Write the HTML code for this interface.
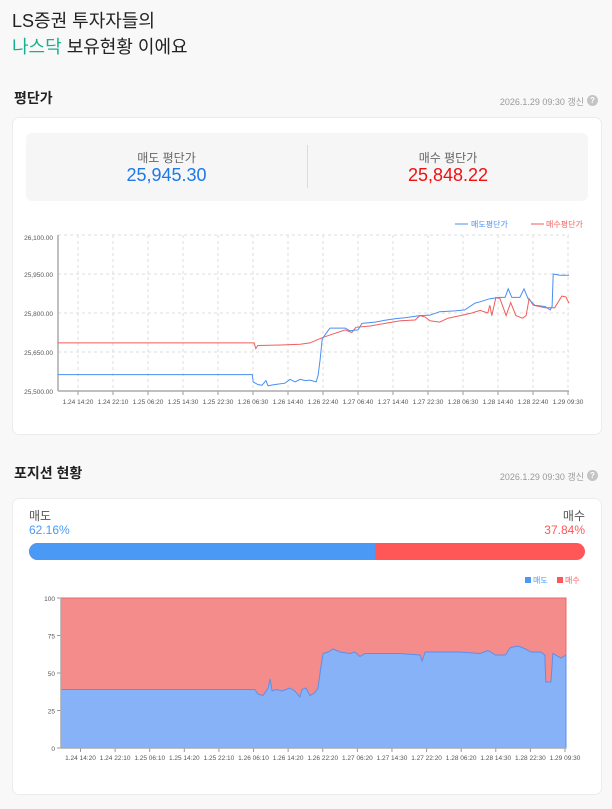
<!DOCTYPE html>
<html><head><meta charset="utf-8">
<style>
*{margin:0;padding:0;box-sizing:border-box}
body{width:612px;height:809px;background:#f8f8f8;font-family:"Liberation Sans","Noto Sans CJK KR",sans-serif;position:relative;overflow:hidden;color:#222}
.abs{position:absolute}
.card{position:absolute;background:#fff;border:1px solid #ececec;border-radius:7px}
.ts{position:absolute;font-size:9px;color:#9a9a9a;right:27px}
.q{position:absolute;width:11px;height:11px;border-radius:50%;background:#c4c4c4;color:#fff;font-size:8px;text-align:center;line-height:11px;font-weight:bold;left:587px}
svg text{font-family:"Liberation Sans",sans-serif}
</style></head><body>
<div class="abs" style="left:12px;top:7px;font-size:18px;">LS증권 투자자들의</div>
<div class="abs" style="left:12px;top:33px;font-size:18px;"><span style="color:#16b08f">나스닥</span> 보유현황 이에요</div>

<div class="abs" style="left:14px;top:88px;font-size:14px;font-weight:bold">평단가</div>
<div class="ts" style="top:95px;right:28px">2026.1.29 09:30 갱신</div>
<div class="q" style="top:95px">?</div>

<div class="card" style="left:12px;top:117px;width:590px;height:318px"></div>
<div class="abs" style="left:26px;top:133px;width:562px;height:68px;background:#f6f6f6;border-radius:6px">
  <div class="abs" style="left:281px;top:12px;width:1px;height:43px;background:#dcdcdc"></div>
  <div class="abs" style="left:0;width:281px;top:16px;text-align:center;font-size:12px;color:#666">매도 평단가</div>
  <div class="abs" style="left:0;width:281px;top:32px;text-align:center;font-size:18px;color:#1e78e6">25,945.30</div>
  <div class="abs" style="left:282px;width:280px;top:16px;text-align:center;font-size:12px;color:#666">매수 평단가</div>
  <div class="abs" style="left:282px;width:280px;top:32px;text-align:center;font-size:18px;color:#f01010">25,848.22</div>
</div>
<svg id="c1" class="abs" style="left:0;top:0" width="612" height="440"></svg>

<div class="abs" style="left:14px;top:463px;font-size:14px;font-weight:bold">포지션 현황</div>
<div class="ts" style="top:470px;right:28px">2026.1.29 09:30 갱신</div>
<div class="q" style="top:470px">?</div>
<div class="card" style="left:12px;top:498px;width:590px;height:297px"></div>
<div class="abs" style="left:29px;top:507px;font-size:12px;color:#555">매도</div>
<div class="abs" style="left:29px;top:523px;font-size:12px;color:#4a9af5">62.16%</div>
<div class="abs" style="right:27px;top:507px;font-size:12px;color:#555">매수</div>
<div class="abs" style="right:27px;top:523px;font-size:12px;color:#ff5757">37.84%</div>
<div class="abs" style="left:29px;top:543px;width:556px;height:17px;border-radius:9px;overflow:hidden;background:#ff5757">
  <div style="width:62.16%;height:100%;background:#4a9af5"></div>
</div>
<svg id="c2" class="abs" style="left:0;top:0" width="612" height="800"></svg>

<script>
// ---- chart 1 data (time as % of range, price) ----
const c1Ticks = ["1.24 14:20","1.24 22:10","1.25 06:20","1.25 14:30","1.25 22:30","1.26 06:30","1.26 14:40","1.26 22:40","1.27 06:40","1.27 14:40","1.27 22:30","1.28 06:30","1.28 14:40","1.28 22:40","1.29 09:30"];
const c1YTicks = [25500,25650,25800,25950,26100];
const c1YLabels = ["25,500.00","25,650.00","25,800.00","25,950.00","26,100.00"];
const sellT = [0,38,38.2,39.1,39.9,40.7,41.1,42.5,44.4,45.4,46.4,47.4,48.4,49.3,50.5,50.9,51.3,51.7,52.4,53.2,56.2,57.1,58.7,59.5,62,64,65.9,67.9,70.8,72.8,74.7,77.7,79.6,81.6,82.6,84.5,86.5,87.5,88.1,88.8,90.4,91.2,92,93.3,95.3,96.3,96.7,96.9,98.2,100];
const sellV = [25563,25563,25535,25525,25522,25540,25520,25525,25530,25545,25535,25545,25540,25542,25535,25560,25620,25700,25720,25742,25742,25732,25735,25760,25765,25772,25778,25782,25790,25792,25805,25808,25812,25838,25843,25855,25860,25860,25893,25860,25860,25893,25855,25830,25825,25812,25825,25950,25945,25945];
const buyT = [0,38.4,38.7,39.1,43.6,47.4,49.3,51.7,53.6,56.2,57.5,58.3,61.1,64,67,69.9,70.8,71.8,72.8,74.7,76.3,78.7,81,82.6,84.1,84.5,84.9,85.7,86.5,87.7,88.6,89.6,90.9,91.6,92.2,93,95.3,97.2,98.6,99.4,100];
const buyV = [25685,25685,25663,25675,25677,25680,25685,25705,25718,25735,25725,25745,25750,25760,25770,25773,25790,25785,25770,25765,25780,25790,25800,25810,25800,25830,25790,25860,25855,25790,25840,25790,25780,25790,25855,25830,25820,25820,25865,25862,25838];
// ---- chart 2 data ----
const c2Ticks = ["1.24 14:20","1.24 22:10","1.25 06:10","1.25 14:20","1.25 22:10","1.26 06:10","1.26 14:20","1.26 22:20","1.27 06:20","1.27 14:30","1.27 22:20","1.28 06:20","1.28 14:30","1.28 22:30","1.29 09:30"];
const c2YTicks = [0,25,50,75,100];
const posT = [0,38.4,39,40,41,41.4,41.8,42.6,43.8,45.3,46.3,47.3,47.7,48.5,49.3,50.3,50.9,51.5,51.9,52.9,53.9,55.2,57.2,58.2,59.2,60.2,63.2,67.1,71.1,71.5,72.1,75.1,79,83,84.6,86,88,89,90.6,92,93,95,95.8,96,97,97.4,99,100];
const posV = [39,39,36,35,40,46,38,39,38,40,38,34,39,40,35,37,40,55,63,64,66,64,63,64,61,63,63,63,62,58,64,64,64,63,65,62,62,67,68,66,64,64,62,44,44,63,60,62];

const NS='http://www.w3.org/2000/svg';
function mk(svg,tag,attrs){const e=document.createElementNS(NS,tag);for(const k in attrs)e.setAttribute(k,attrs[k]);svg.appendChild(e);return e;}

// chart 1
(function(){
const svg=document.getElementById('c1');
const X0=58,X1=569,Y0=391,Y1=235;
const xs=t=>X0+(X1-X0)*t/100;
const ys=v=>Y0-(v-25500)/600*(Y0-Y1);
const tx=i=>78+i*(568-78)/(c1Ticks.length-1);
c1YTicks.forEach((v,i)=>{
  const g=mk(svg,'line',{x1:X0,x2:X1,y1:ys(v),y2:ys(v),stroke:'#ddd','stroke-dasharray':'3,3'});
  
  const t=mk(svg,'text',{x:X0-5,y:ys(v)+(i==4?5:3),'text-anchor':'end','font-size':'6.5',fill:'#555'});t.textContent=c1YLabels[i];
  
});
c1Ticks.forEach((s,i)=>{
  const g=mk(svg,'line',{x1:tx(i),x2:tx(i),y1:Y1,y2:Y0,stroke:'#ddd','stroke-dasharray':'3,3'});
  
  mk(svg,'line',{x1:tx(i),x2:tx(i),y1:Y0,y2:Y0+4,stroke:'#999'});
  const t=mk(svg,'text',{x:tx(i),y:Y0+13,'text-anchor':'middle','font-size':'6.5',fill:'#555'});t.textContent=s;
  
});
mk(svg,'line',{x1:X0,x2:X0,y1:Y1,y2:Y0,stroke:'#aaa','stroke-width':1.5});
mk(svg,'line',{x1:X0,x2:X1,y1:Y0,y2:Y0,stroke:'#aaa','stroke-width':1.5});
function line(T,V,c,n){let d='';T.forEach((t,i)=>{d+=(i?'L':'M')+xs(t).toFixed(1)+','+ys(V[i]).toFixed(1);});
  const p=mk(svg,'path',{d,fill:'none',stroke:c,'stroke-width':1});}
line(buyT,buyV,'#f25c5c','buy-avg-line');
line(sellT,sellV,'#4a8ff0','sell-avg-line');
mk(svg,'line',{x1:455,x2:468,y1:224,y2:224,stroke:'#4a8ff0'});
let t=mk(svg,'text',{x:471,y:227,'font-size':'8',fill:'#4a8ff0'});t.textContent='매도평단가';

mk(svg,'line',{x1:531,x2:544,y1:224,y2:224,stroke:'#f25c5c'});
t=mk(svg,'text',{x:546,y:227,'font-size':'8',fill:'#f25c5c'});t.textContent='매수평단가';

})();

// chart 2
(function(){
const svg=document.getElementById('c2');
const X0=61,X1=566,Y0=748,Y1=598;
const xs=t=>X0+(X1-X0)*t/100;
const ys=v=>Y0-v/100*(Y0-Y1);
const tx=i=>80.5+i*(565-80.5)/(c2Ticks.length-1);
mk(svg,'rect',{x:X0,y:Y1,width:X1-X0,height:Y0-Y1,fill:'#f48c8c',stroke:'#e86a6a','stroke-width':1});
let d='M'+xs(0)+','+Y0;posT.forEach((t,i)=>{d+='L'+xs(t).toFixed(1)+','+ys(posV[i]).toFixed(1);});d+='L'+xs(100)+','+Y0+'Z';
const a=mk(svg,'path',{d,fill:'#87b2f7',stroke:'#5e8fe8','stroke-width':1});

c2YTicks.forEach(v=>{
  mk(svg,'line',{x1:X0-4,x2:X0,y1:ys(v),y2:ys(v),stroke:'#999'});
  const t=mk(svg,'text',{x:X0-6,y:ys(v)+3,'text-anchor':'end','font-size':'6.5',fill:'#555'});t.textContent=v;
  
});
c2Ticks.forEach((s,i)=>{
  mk(svg,'line',{x1:tx(i),x2:tx(i),y1:Y0,y2:Y0+4,stroke:'#999'});
  const t=mk(svg,'text',{x:tx(i),y:Y0+12,'text-anchor':'middle','font-size':'6.5',fill:'#555'});t.textContent=s;
  
});
mk(svg,'line',{x1:X0,x2:X0,y1:Y1,y2:Y0,stroke:'#aaa','stroke-width':1.5});
mk(svg,'line',{x1:X0,x2:X1,y1:Y0,y2:Y0,stroke:'#aaa','stroke-width':1.5});
mk(svg,'rect',{x:525,y:577,width:6,height:6,fill:'#4a9af5'});
let t=mk(svg,'text',{x:533,y:583,'font-size':'8',fill:'#4a9af5'});t.textContent='매도';

mk(svg,'rect',{x:557,y:577,width:6,height:6,fill:'#ff5757'});
t=mk(svg,'text',{x:565,y:583,'font-size':'8',fill:'#ff5757'});t.textContent='매수';

})();
</script>
</body></html>
